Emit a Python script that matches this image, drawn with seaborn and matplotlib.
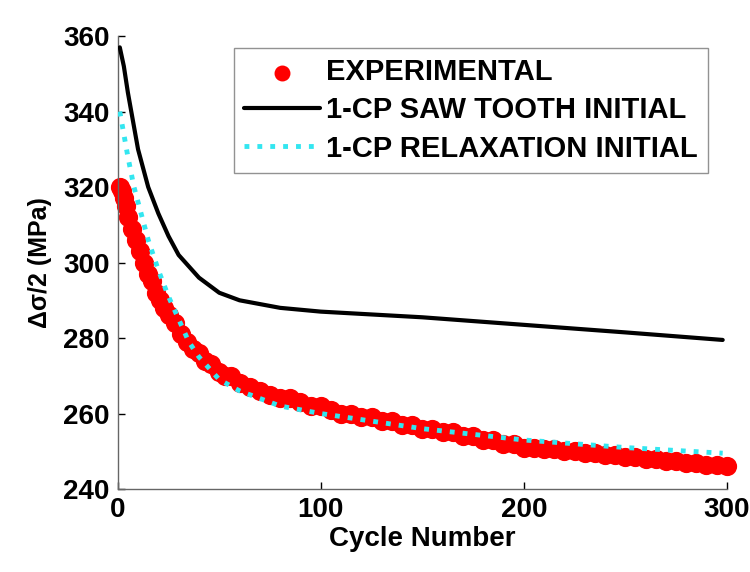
import matplotlib
matplotlib.use("Agg")
import matplotlib.pyplot as plt
import seaborn as sns

exp_cycle = [1,2,3,4,5,7,9,11,13,15,17,19,21,23,25,28,31,34,37,40,43,46,50,53,56,60,65,70,75,80,85,90,95,100,105,110,115,120,125,130,135,140,145,150,155,160,165,170,175,180,185,190,195,200,205,210,215,220,225,230,235,240,245,250,255,260,265,270,275,280,285,290,295,300]
exp_val = [320,319,317,315,312,309,306,303,300,297,295,292,290,288,286,284,281,279,277,276,274,273,271,270,270,268,267,266,265,264,264,263,262,262,261,260,260,259,259,258,258,257,257,256,256,255,255,254,254,253,253,252,252,251,251,250.5,250.5,250,250,249.5,249.5,249,249,248.5,248.5,248,248,247.5,247.5,247,247,246.5,246.5,246]
saw_cycle = [1,3,5,8,10,15,20,25,30,35,40,50,60,70,80,100,150,200,250,298]
saw_val = [357,352,345,336,330,320,313,307,302,299,296,292,290,289,288,287,285.5,283.5,281.5,279.5]
rel_cycle = [1,3,5,8,10,15,20,25,30,35,40,50,60,70,80,100,150,200,250,298]
rel_val = [340,334,328,320,316,306,298,291,285,279,275,269,266,264,262,260,256,253,251,249.5]

sns.set_style("ticks")
plt.rcParams['font.family'] = ['Liberation Sans', 'DejaVu Sans']
plt.rcParams['font.weight'] = 'bold'
plt.rcParams['text.color'] = 'black'
plt.rcParams['axes.labelcolor'] = 'black'
plt.rcParams['xtick.color'] = 'black'
plt.rcParams['ytick.color'] = 'black'
fig = plt.figure(figsize=(7.5, 5.72), dpi=100)
ax = fig.add_axes([0.157, 0.145, 0.812, 0.792])
sns.scatterplot(x=exp_cycle, y=exp_val, ax=ax, color='red', s=140, marker='o',
                edgecolor='red', linewidth=2, label='EXPERIMENTAL', zorder=2)
for c in ax.collections:
    c.set_clip_on(False)
sns.lineplot(x=saw_cycle, y=saw_val, ax=ax, color='black', linewidth=3,
             label='1-CP SAW TOOTH INITIAL', zorder=3)
sns.lineplot(x=rel_cycle, y=rel_val, ax=ax, color='#33e6f0', linewidth=3.5,
             linestyle=':', label='1-CP RELAXATION INITIAL', zorder=4)
ax.set_xlim(0, 300)
ax.set_ylim(240, 360)
ax.set_xticks([0, 100, 200, 300])
ax.set_yticks(range(240, 361, 20))
ax.tick_params(labelsize=20, direction='in', length=5, width=1, pad=6)
for l in ax.get_xticklabels() + ax.get_yticklabels():
    l.set_fontweight('bold')
ax.set_xlabel('Cycle Number', fontsize=20, fontweight='bold', labelpad=2)
ax.set_ylabel('Δσ/2 (MPa)', fontsize=18, fontweight='bold', labelpad=8)
sns.despine(ax=ax)
for s in ['left', 'bottom']:
    ax.spines[s].set_color('#666666'); ax.spines[s].set_linewidth(1)
leg = ax.legend(loc='upper right', bbox_to_anchor=(708/750, 1-48/572),
                bbox_transform=fig.transFigure, fontsize=21, frameon=True,
                fancybox=False, edgecolor='#777777', borderaxespad=0, handlelength=2.6,
                handletextpad=0.2, borderpad=0.35, labelspacing=0.35, markerscale=0.8)
leg.get_frame().set_linewidth(1)
for t in leg.get_texts():
    t.set_fontweight('bold')
fig.savefig('out.png', dpi=100)
